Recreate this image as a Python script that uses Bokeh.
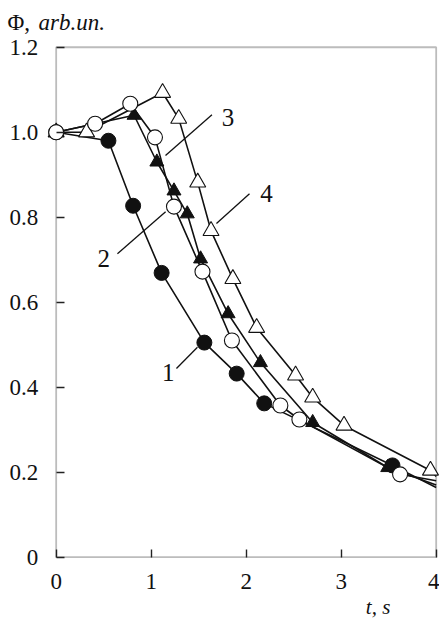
from bokeh.plotting import figure
from bokeh.models import Label, Range1d, FixedTicker, BoxAnnotation
from bokeh.core.properties import value
from bokeh.embed import file_html
from bokeh.resources import INLINE

# ---- data ----
# curve 1: filled circles
x1 = [0.0, 0.55, 0.81, 1.11, 1.56, 1.90, 2.19, 3.54]
y1 = [1.0, 0.980, 0.827, 0.669, 0.505, 0.432, 0.362, 0.216]
# curve 2: open circles
x2 = [0.0, 0.41, 0.78, 1.04, 1.24, 1.54, 1.85, 2.36, 2.56, 3.62]
y2 = [1.0, 1.02, 1.067, 0.988, 0.825, 0.672, 0.51, 0.357, 0.324, 0.195]
# curve 3: filled triangles
x3 = [0.0, 0.82, 1.06, 1.24, 1.38, 1.52, 1.81, 2.15, 2.70, 3.49]
y3 = [1.0, 1.04, 0.93, 0.862, 0.808, 0.702, 0.573, 0.458, 0.317, 0.211]
# curve 4: open triangles
x4 = [0.0, 0.32, 1.12, 1.29, 1.49, 1.63, 1.86, 2.11, 2.52, 2.70, 3.03, 3.94]
y4 = [1.0, 1.0, 1.093, 1.032, 0.882, 0.768, 0.655, 0.54, 0.428, 0.376, 0.31, 0.204]
# where each curve leaves the box at t = 4
end_x = [4.0, 4.0, 4.0, 4.0]
end_y = [0.164, 0.18, 0.17, 0.19]

x_ticks = [0, 1, 2, 3, 4]
y_ticks = [0, 0.2, 0.4, 0.6, 0.8, 1.0, 1.2]
y_tick_labels = ["0", "0.2", "0.4", "0.6", "0.8", "1.0", "1.2"]
x_lim = (0, 4)
y_lim = (0, 1.2)

# curve number callouts: label, text position, leader start, leader end
callout_text = ["1", "2", "3", "4"]
callout_tx = [1.18, 0.50, 1.81, 2.215]
callout_ty = [0.435, 0.703, 1.035, 0.855]
lead_x0 = [1.266, 0.645, 1.151, 1.687]
lead_y0 = [0.444, 0.714, 0.945, 0.785]
lead_x1 = [1.487, 1.152, 1.640, 2.035]
lead_y1 = [0.494, 0.813, 1.041, 0.855]

FONT = "'Liberation Serif', 'Times New Roman', serif"
INK = "#111111"

# the frame covers the whole page; axes are pinned at t = 0 and Φ = 0
p = figure(width=439, height=619, output_backend="svg", toolbar_location=None,
           x_range=Range1d(-0.586, 4.035), y_range=Range1d(-0.1466, 1.31),
           min_border=0, min_border_left=0, min_border_right=0,
           min_border_top=0, min_border_bottom=0)
p.background_fill_color = "white"
p.border_fill_color = "white"
p.outline_line_color = None
p.grid.visible = False

p.add_layout(BoxAnnotation(left=x_lim[0], right=x_lim[1], bottom=y_lim[0], top=y_lim[1],
                           fill_alpha=0, line_color="#222222", line_width=1.8,
                           level="underlay"))

for ax in (p.xaxis[0], p.yaxis[0]):
    ax.axis_line_color = None
    ax.major_tick_in = 8
    ax.major_tick_out = 0
    ax.major_tick_line_color = "#222222"
    ax.major_tick_line_width = 1.4
    ax.minor_tick_line_color = None
    ax.major_label_text_font = FONT
    ax.major_label_text_font_size = "23px"
    ax.major_label_text_color = INK

p.xaxis.fixed_location = y_lim[0]
p.xaxis.bounds = x_lim
p.xaxis.ticker = FixedTicker(ticks=x_ticks)
p.xaxis.major_label_standoff = 17
p.yaxis.fixed_location = x_lim[0]
p.yaxis.bounds = y_lim
p.yaxis.ticker = FixedTicker(ticks=y_ticks)
p.yaxis.major_label_overrides = {t: s for t, s in zip(y_ticks, y_tick_labels)}
p.yaxis.major_label_standoff = 18

# curves
series = [(x1, y1), (x2, y2), (x3, y3), (x4, y4)]
for i, (xs, ys) in enumerate(series):
    p.line(xs + [end_x[i]], ys + [end_y[i]], line_color=INK, line_width=1.6)

# markers
p.scatter(x4, y4, marker="triangle", size=16, fill_color="white", line_color=INK, line_width=1.1)
p.scatter(x3, y3, marker="triangle", size=14, fill_color=INK, line_color=INK, line_width=1.0)
p.scatter(x1, y1, marker="circle", size=15, fill_color=INK, line_color=INK, line_width=1.0)
p.scatter(x2, y2, marker="circle", size=15, fill_color="white", line_color=INK, line_width=1.1)

# callouts
p.segment(lead_x0, lead_y0, lead_x1, lead_y1, line_color=INK, line_width=1.3)
p.text(callout_tx, callout_ty, text=callout_text, text_align="center",
       text_baseline="middle", text_font=value(FONT), text_font_size="25px",
       text_color=INK)

# axis titles
p.add_layout(Label(x=-0.513, y=1.258, text="Φ,", text_font=FONT, text_font_size="23px",
                   text_color=INK, text_baseline="alphabetic"))
p.add_layout(Label(x=-0.186, y=1.258, text="arb.un.", text_font=FONT,
                   text_font_size="23px", text_font_style="italic", text_color=INK,
                   text_baseline="alphabetic"))
p.add_layout(Label(x=3.26, y=-0.118, text="t, s", text_font=FONT,
                   text_font_size="21px", text_font_style="italic", text_color=INK,
                   text_baseline="alphabetic"))

open("out.html", "w").write(file_html(p, INLINE))
